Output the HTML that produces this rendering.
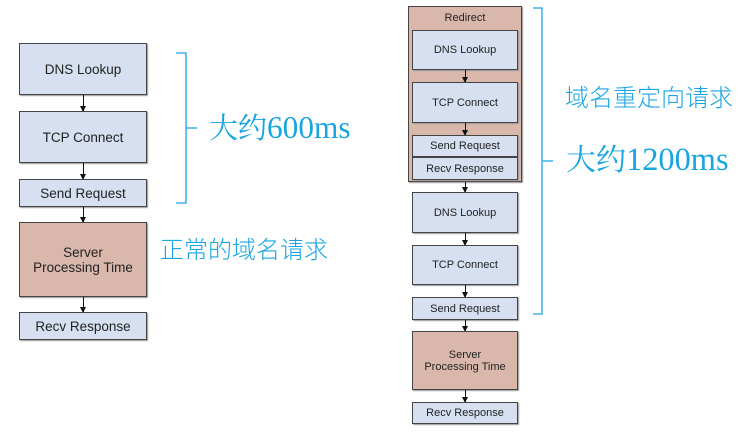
<!DOCTYPE html>
<html><head><style>
body{margin:0;width:737px;height:434px;background:#fff;position:relative;overflow:hidden;font-family:"Liberation Sans",sans-serif}
.b{position:absolute;box-sizing:border-box;border:1.5px solid #444;background:#d6e0f1;display:flex;align-items:center;justify-content:center;text-align:center;color:#222;box-shadow:1px 1px 1px #999}
.s{background:#d9b8ab}
.a{position:absolute;width:1px;background:#111}
.a:after{content:"";position:absolute;left:-3px;bottom:-1px;border-left:3.5px solid transparent;border-right:3.5px solid transparent;border-top:6px solid #111}
.t{position:absolute;color:#1aa5e0;font-family:"Liberation Serif","Noto Serif CJK SC",serif;white-space:nowrap}
.t span{font-size:1.08em}
.c{position:absolute;color:#1aa5e0;font-family:"Liberation Sans","Noto Sans CJK SC",sans-serif;white-space:nowrap;font-weight:300}
</style></head><body>
<div class="b" style="left:19px;top:43px;width:128px;height:52px;font-size:13.5px">DNS Lookup</div>
<div class="a" style="left:83px;top:95px;height:16px"></div>
<div class="b" style="left:19px;top:111px;width:128px;height:52px;font-size:13.5px">TCP Connect</div>
<div class="a" style="left:83px;top:163px;height:16px"></div>
<div class="b" style="left:19px;top:179px;width:128px;height:28px;font-size:13.5px">Send Request</div>
<div class="a" style="left:83px;top:207px;height:15px"></div>
<div class="b s" style="left:19px;top:222px;width:128px;height:75px;font-size:13.5px">Server<br>Processing Time</div>
<div class="a" style="left:83px;top:297px;height:15px"></div>
<div class="b" style="left:19px;top:312px;width:128px;height:28px;font-size:13.5px">Recv Response</div>
<svg style="position:absolute;left:0;top:0" width="737" height="434"><g fill="none" stroke="#1aa5e0" stroke-width="1.3">
<path d="M176 53 H186 V203 H176 M186 128 H197"/>
<path d="M533 8 H542 V314 H533 M542 161 H553"/></g></svg>
<div class="t" style="left:209px;top:110px;font-size:29px;line-height:36px">大约<span>600ms</span></div>
<div class="c" style="left:160px;top:236px;font-size:24px;line-height:30px">正常的域名请求</div>
<div class="b s" style="left:408px;top:6px;width:114px;height:176px;align-items:flex-start;padding-top:5px;font-size:11px">Redirect</div>
<div class="b" style="left:412px;top:30px;width:106px;height:40px;font-size:11px">DNS Lookup</div>
<div class="a" style="left:465px;top:70px;height:12px"></div>
<div class="b" style="left:412px;top:82px;width:106px;height:41px;font-size:11px">TCP Connect</div>
<div class="a" style="left:465px;top:123px;height:12px"></div>
<div class="b" style="left:412px;top:135px;width:106px;height:22px;font-size:11px">Send Request</div>
<div class="b" style="left:412px;top:157px;width:106px;height:23px;font-size:11px">Recv Response</div>
<div class="a" style="left:465px;top:182px;height:10px"></div>
<div class="b" style="left:412px;top:192px;width:106px;height:41px;font-size:11px">DNS Lookup</div>
<div class="a" style="left:465px;top:233px;height:12px"></div>
<div class="b" style="left:412px;top:245px;width:106px;height:40px;font-size:11px">TCP Connect</div>
<div class="a" style="left:465px;top:285px;height:12px"></div>
<div class="b" style="left:412px;top:297px;width:106px;height:23px;font-size:11px">Send Request</div>
<div class="a" style="left:465px;top:320px;height:11px"></div>
<div class="b s" style="left:412px;top:331px;width:106px;height:59px;font-size:11px">Server<br>Processing Time</div>
<div class="a" style="left:465px;top:390px;height:12px"></div>
<div class="b" style="left:412px;top:402px;width:106px;height:22px;font-size:11px">Recv Response</div>
<div class="c" style="left:565px;top:84px;font-size:24px;line-height:30px">域名重定向请求</div>
<div class="t" style="left:566px;top:142px;font-size:30px;line-height:36px">大约<span>1200ms</span></div>
</body></html>
